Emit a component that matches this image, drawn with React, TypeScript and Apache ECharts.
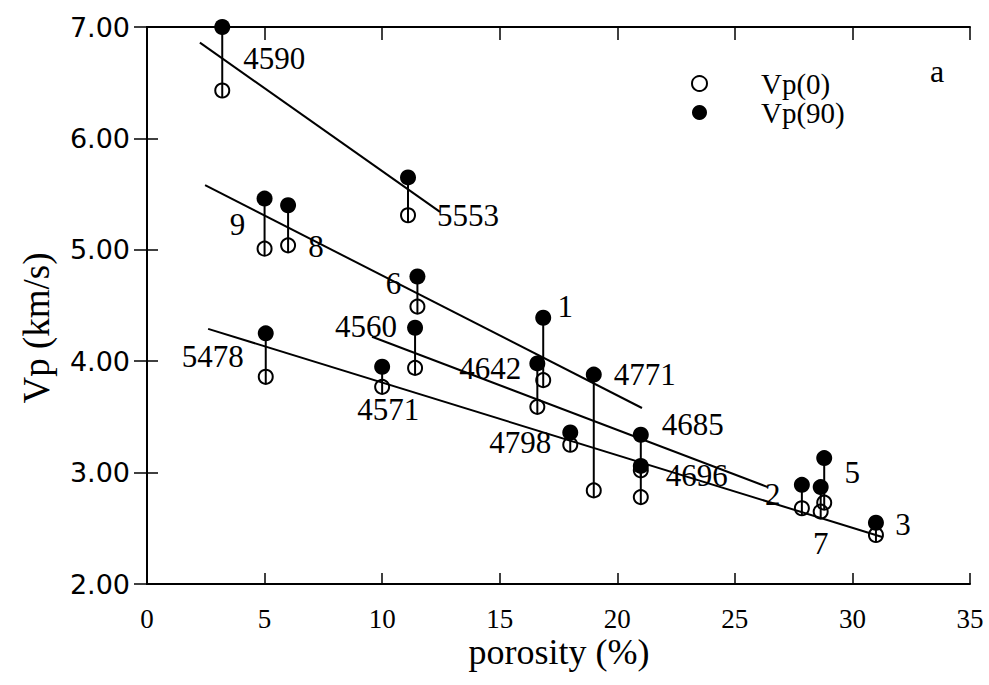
import React, { useEffect, useRef } from "react";
import * as echarts from "echarts";

// ---- data ----
const sampleIds = ["4590", "5553", "9", "8", "6", "4560", "5478", "4571", "1", "4642", "4771", "4798", "4685", "4696", "2", "7", "5", "3"];
const porosity = [3.2, 11.1, 5.0, 6.0, 11.5, 11.4, 5.05, 10.0, 16.85, 16.6, 19.0, 18.0, 21.0, 21.0, 27.85, 28.65, 28.8, 31.0];
const vp90 = [7.0, 5.65, 5.46, 5.4, 4.76, 4.3, 4.25, 3.95, 4.39, 3.98, 3.88, 3.36, 3.34, 3.06, 2.89, 2.87, 3.13, 2.55];
const vp0 = [6.43, 5.31, 5.01, 5.04, 4.49, 3.94, 3.86, 3.77, 3.83, 3.59, 2.84, 3.25, 3.02, 2.78, 2.68, 2.65, 2.73, 2.44];

const fitLineA = [[2.25, 6.86], [12.46, 5.34]];
const fitLineB = [[2.47, 5.58], [21.05, 3.58]];
const fitLineC = [[9.57, 4.22], [26.4, 2.87]];
const fitLineD = [[2.6, 4.29], [31.3, 2.42]];

const xTicks = [0, 5, 10, 15, 20, 25, 30, 35];
const yTicks = [2, 3, 4, 5, 6, 7];

// ---- label placement (pixels, relative to the Vp(90) point) ----
const labelOffsets: Record<string, [number, number]> = {
  "4590": [52, 31],
  "5553": [60, 38],
  "9": [-27, 26],
  "8": [28, 41],
  "6": [-24, 7],
  "4560": [-49, -1],
  "5478": [-53, 23],
  "4571": [6, 43],
  "1": [22, -11],
  "4642": [-47, 5],
  "4771": [51, 0],
  "4798": [-50, 10],
  "4685": [52, -10],
  "4696": [56, 10],
  "2": [-29, 10],
  "7": [0, 56],
  "5": [28, 14],
  "3": [27, 2],
};

const SERIF = "'Liberation Serif', 'Times New Roman', serif";
const OPEN_R = 7;

export default function App() {
  const ref = useRef<HTMLDivElement>(null);

  useEffect(() => {
    if (!ref.current) return;
    const chart = echarts.init(ref.current, undefined, { renderer: "svg" });

    const stemData = sampleIds.map((_, i) => [porosity[i], vp90[i], vp0[i]]);
    const openData = sampleIds.map((_, i) => [porosity[i], vp0[i]]);
    const filledData = sampleIds.map((id, i) => ({
      value: [porosity[i], vp90[i]],
      label: {
        show: true,
        position: "inside",
        offset: labelOffsets[id],
        formatter: id,
        color: "#000",
        opacity: 1,
        textBorderWidth: 0,
        fontFamily: SERIF,
        fontSize: 31,
      },
    }));

    const fitSeries = [fitLineA, fitLineB, fitLineC, fitLineD].map((d, k) => ({
      type: "line",
      name: "fit" + k,
      data: d,
      symbol: "none",
      lineStyle: { color: "#000", width: 2, opacity: 1 },
      z: 2,
      silent: true,
    }));

    const tickAxisCommon = {
      axisLine: { show: true, lineStyle: { color: "#000", width: 2 } },
      splitLine: { show: false },
    };

    chart.setOption({
      animation: false,
      backgroundColor: "#fff",
      grid: { left: 147, right: 19, top: 27, bottom: 101 },
      xAxis: [
        {
          type: "value",
          min: xTicks[0],
          max: xTicks[xTicks.length - 1],
          interval: 5,
          position: "bottom",
          ...tickAxisCommon,
          axisTick: { show: true, inside: true, length: 11, lineStyle: { color: "#000", width: 1.5 } },
          axisLabel: { show: true, margin: 21, color: "#000", fontFamily: SERIF, fontSize: 27 },
        },
        {
          type: "value",
          min: xTicks[0],
          max: xTicks[xTicks.length - 1],
          interval: 5,
          position: "top",
          ...tickAxisCommon,
          axisTick: { show: true, inside: true, length: 13, lineStyle: { color: "#000", width: 1.5 } },
          axisLabel: { show: false },
        },
      ],
      yAxis: [
        {
          type: "value",
          min: yTicks[0],
          max: yTicks[yTicks.length - 1],
          interval: 1,
          position: "left",
          ...tickAxisCommon,
          axisTick: { show: true, inside: true, length: 11, lineStyle: { color: "#000", width: 1.5 } },
          axisLabel: {
            show: true,
            margin: 17,
            color: "#000",
            fontFamily: "'DejaVu Sans', sans-serif",
            fontSize: 27,
            formatter: (v: number) => v.toFixed(2),
          },
        },
        {
          type: "value",
          min: yTicks[0],
          max: yTicks[yTicks.length - 1],
          interval: 1,
          position: "right",
          ...tickAxisCommon,
          axisTick: { show: true, inside: true, length: 13, lineStyle: { color: "#000", width: 1.5 } },
          axisLabel: { show: false },
        },
      ],
      legend: {
        orient: "vertical",
        left: 686,
        top: 64,
        itemGap: 0,
        itemWidth: 15,
        itemHeight: 15,
        textStyle: {
          color: "#000",
          fontFamily: SERIF,
          fontSize: 29,
          lineHeight: 28,
          padding: [0, 0, 0, 49],
        },
        data: [
          { name: "Vp(0)", icon: "circle", itemStyle: { color: "#fff", borderColor: "#000", borderWidth: 2, opacity: 1 } },
          { name: "Vp(90)", icon: "circle", itemStyle: { color: "#000", borderWidth: 0, opacity: 1 } },
        ],
      },
      graphic: [
        {
          type: "text",
          left: 930,
          top: 55,
          style: { text: "a", fontFamily: SERIF, fontSize: 32, fill: "#000" },
        },
        {
          type: "text",
          x: 559,
          y: 652,
          style: {
            text: "porosity (%)",
            fontFamily: SERIF,
            fontSize: 36,
            fill: "#000",
            align: "center",
            verticalAlign: "middle",
          },
        },
        {
          type: "text",
          x: 36,
          y: 328,
          rotation: Math.PI / 2,
          style: {
            text: "Vp (km/s)",
            fontFamily: SERIF,
            fontSize: 37,
            fill: "#000",
            align: "center",
            verticalAlign: "middle",
          },
        },
      ],
      series: [
        ...fitSeries,
        {
          type: "custom",
          name: "stems",
          data: stemData,
          encode: { x: 0, y: [1, 2] },
          z: 2,
          silent: true,
          renderItem: (_params: any, api: any) => {
            const x = api.value(0);
            const p1 = api.coord([x, api.value(1)]);
            const p2 = api.coord([x, api.value(2)]);
            return {
              type: "line",
              shape: { x1: p1[0], y1: p1[1], x2: p2[0], y2: p2[1] + OPEN_R },
              style: { stroke: "#000", lineWidth: 2 },
            };
          },
        },
        {
          type: "scatter",
          name: "Vp(0)",
          data: openData,
          symbol: "circle",
          symbolSize: OPEN_R * 2,
          itemStyle: { color: "rgba(255,255,255,0)", borderColor: "#000", borderWidth: 2, opacity: 1 },
          z: 3,
        },
        {
          type: "scatter",
          name: "Vp(90)",
          data: filledData,
          symbol: "circle",
          symbolSize: 16,
          itemStyle: { color: "#000", opacity: 1 },
          z: 4,
        },
      ],
    });

    return () => chart.dispose();
  }, []);

  return (
    <div
      ref={ref}
      style={{ position: "absolute", left: 0, top: 0, width: 989, height: 685, background: "#fff" }}
    />
  );
}
